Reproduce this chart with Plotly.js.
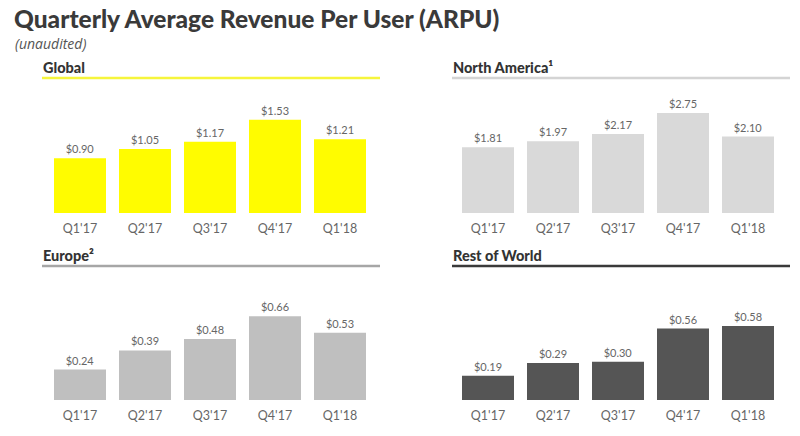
<!DOCTYPE html>
<html><head><meta charset="utf-8">
<script src="https://cdn.plot.ly/plotly-3.0.1.min.js"></script>
<style>html,body{margin:0;padding:0;background:#fff}#c{width:800px;height:436px}</style>
</head><body><div id="c"></div>
<script>
const quarters = ["Q1'17","Q2'17","Q3'17","Q4'17","Q1'18"];
const globalArpu = [0.90, 1.05, 1.17, 1.53, 1.21];
const northAmericaArpu = [1.81, 1.97, 2.17, 2.75, 2.10];
const europeArpu = [0.24, 0.39, 0.48, 0.66, 0.53];
const restOfWorldArpu = [0.19, 0.29, 0.30, 0.56, 0.58];
const panelTitles = ["Global", "North America¹", "Europe²", "Rest of World"];

const W = 800, H = 436;
const px = v => v / W, py = v => 1 - v / H;
const FONT = "Lato, 'Open Sans', sans-serif";

function bar(y, color, xa, ya) {
  return {
    type: 'bar', x: quarters, y: y, xaxis: xa, yaxis: ya,
    marker: {color: color}, width: 0.8,
    text: y.map(v => '$' + v.toFixed(2)), textposition: 'outside',
    textfont: {family: FONT, size: 11, color: '#666'},
    cliponaxis: false, hoverinfo: 'skip', showlegend: false
  };
}
const data = [
  bar(globalArpu, '#FFFC00', 'x', 'y'),
  bar(northAmericaArpu, '#D9D9D9', 'x2', 'y2'),
  bar(europeArpu, '#BFBFBF', 'x3', 'y3'),
  bar(restOfWorldArpu, '#555555', 'x4', 'y4')
];
function xax(d0, d1, anchor) {
  return {domain: [px(d0), px(d1)], anchor: anchor, range: [-0.5, 4.5], showgrid: false,
    zeroline: false, showline: false, ticks: '', ticklabelstandoff: 6,
    tickfont: {family: FONT, size: 12.5, color: '#666'}, fixedrange: true};
}
function yax(top, base, max, anchor) {
  return {domain: [py(base), py(top)], anchor: anchor, range: [0, max], visible: false, fixedrange: true};
}
const hdr = (t, x, y) => ({text: t, x: px(x), y: py(y), xref: 'paper', yref: 'paper', xanchor: 'left', yanchor: 'middle',
  showarrow: false, font: {family: FONT, size: 14.5, weight: 900, color: '#333'}});
const layout = {
  width: W, height: H, margin: {l: 0, r: 0, t: 0, b: 0},
  paper_bgcolor: '#fff', plot_bgcolor: 'rgba(0,0,0,0)',
  title: {text: 'Quarterly Average Revenue Per User (ARPU)', x: px(14), xanchor: 'left',
    y: py(19), yanchor: 'middle', font: {family: FONT, size: 24.5, weight: 900, color: '#3a3a3a'}},
  xaxis: xax(47.5, 372.5, 'y'), yaxis: yax(90, 213, 2.02, 'x'),
  xaxis2: xax(455.5, 780.5, 'y2'), yaxis2: yax(90, 213, 3.38, 'x2'),
  xaxis3: xax(47.5, 372.5, 'y3'), yaxis3: yax(280, 400, 0.945, 'x3'),
  xaxis4: xax(455.5, 780.5, 'y4'), yaxis4: yax(280, 400, 0.94, 'x4'),
  annotations: [
    {text: '<i>(unaudited)</i>', x: px(13), y: py(43), xref: 'paper', yref: 'paper', xanchor: 'left', yanchor: 'middle', showarrow: false, font: {family: "'Open Sans', sans-serif", size: 14, color: '#555'}},
    hdr(panelTitles[0], 41, 68),
    hdr(panelTitles[1], 451, 68),
    hdr(panelTitles[2], 41, 255),
    hdr(panelTitles[3], 451, 255)
  ],
  shapes: [
    {type: 'line', xref: 'paper', yref: 'paper', x0: px(42), x1: px(380), y0: py(78), y1: py(78), line: {color: '#F6F53C', width: 2.5}},
    {type: 'line', xref: 'paper', yref: 'paper', x0: px(452), x1: px(790), y0: py(78), y1: py(78), line: {color: '#D4D4D4', width: 2.5}},
    {type: 'line', xref: 'paper', yref: 'paper', x0: px(42), x1: px(380), y0: py(266), y1: py(266), line: {color: '#A6A6A6', width: 2.5}},
    {type: 'line', xref: 'paper', yref: 'paper', x0: px(452), x1: px(790), y0: py(266), y1: py(266), line: {color: '#3A3A3A', width: 2.5}}
  ]
};
Plotly.newPlot('c', data, layout, {displayModeBar: false, staticPlot: true});
</script></body></html>
